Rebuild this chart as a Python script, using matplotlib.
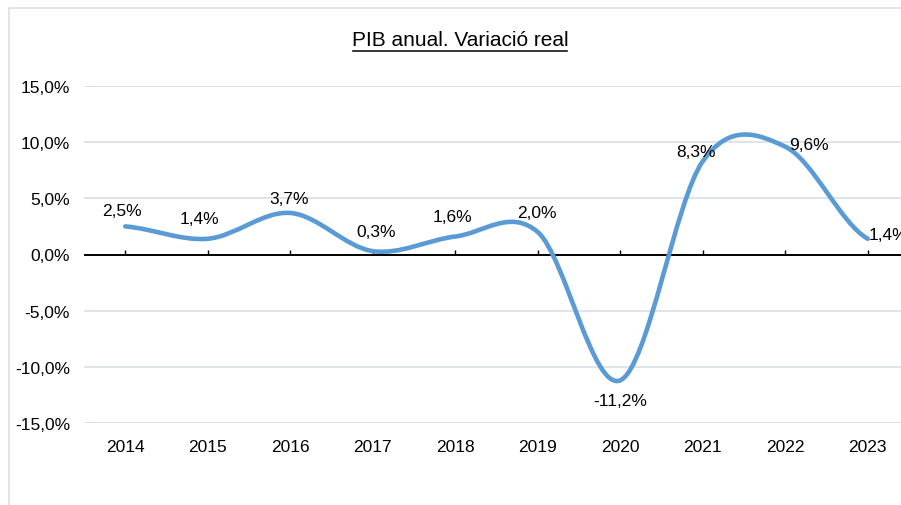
import numpy as np
import matplotlib
matplotlib.use("Agg")
import matplotlib.pyplot as plt
from matplotlib.path import Path
from matplotlib.patches import PathPatch, Rectangle
from matplotlib.lines import Line2D
from matplotlib.markers import TICKUP
from matplotlib.ticker import FuncFormatter
from matplotlib.transforms import IdentityTransform

plt.rcParams['font.family'] = ['Liberation Sans', 'DejaVu Sans']

# Dades
anys = ['2014', '2015', '2016', '2017', '2018', '2019', '2020', '2021', '2022', '2023']
pib = [2.5, 1.4, 3.7, 0.3, 1.6, 2.0, -11.2, 8.3, 9.6, 1.4]

# desplaçament de les etiquetes (pixels)
offsets = [(-3, 16), (-8, 20), (-1, 14), (3, 20), (-2.5, 20), (-1, 20),
           (-0.5, -20), (-6.5, 10), (24, 2), (21, 4)]

blau = '#5B9BD5'
gris = '#D9DFE6'
fs = 12.5

W, H = 901, 506
fig = plt.figure(figsize=(W / 100, H / 100), dpi=100)

# marc del grafic
fig.patches.append(Rectangle((8.5 / W, -0.1), 1.2, 1 - 9 / H + 0.1,
                             transform=fig.transFigure, fill=False,
                             edgecolor=gris, linewidth=1.2))

left, right = 84, 909
top, bottom = 87, 424
ax = fig.add_axes([left / W, (H - bottom) / H, (right - left) / W, (bottom - top) / H])

n = len(pib)
x = np.arange(n)
ax.set_xlim(-0.5, n - 0.5)
ax.set_ylim(-15, 15)
ax.set_yticks(np.arange(-15, 16, 5))
ax.yaxis.set_major_formatter(FuncFormatter(lambda v, p: f"{v:.1f}%".replace('.', ',')))
ax.set_xticks(x, anys)
ax.tick_params(axis='both', length=0, labelsize=fs, colors='black')
ax.tick_params(axis='y', pad=10)
ax.tick_params(axis='x', pad=11.5)
for s in ax.spines.values():
    s.set_visible(False)
ax.grid(axis='y', color=gris, linewidth=1.2)
ax.set_axisbelow(True)

# eix horitzontal a 0 amb marques cap amunt
ax.axhline(0, color='black', linewidth=1.4, zorder=2)
ax.plot(x, np.zeros(n), linestyle='none', marker=TICKUP, markersize=3.5,
        markeredgewidth=1, color='black', zorder=2)

# linia suavitzada (corbes de Bezier)
verts = [(x[0], pib[0])]
codes = [Path.MOVETO]
for i in range(n - 1):
    p0 = pib[i - 1] if i > 0 else pib[i]
    p3 = pib[i + 2] if i + 2 < n else pib[i + 1]
    c1 = pib[i] + (pib[i + 1] - p0) / 6
    c2 = pib[i + 1] - (p3 - pib[i]) / 6
    verts += [(x[i] + 1 / 3, c1), (x[i + 1] - 1 / 3, c2), (x[i + 1], pib[i + 1])]
    codes += [Path.CURVE4] * 3
ax.add_patch(PathPatch(Path(verts, codes), fill=False, edgecolor=blau,
                       linewidth=3.3, capstyle='round', joinstyle='round', zorder=3))

for i, v in enumerate(pib):
    ax.annotate(f"{v:.1f}%".replace('.', ','), (x[i], v), xytext=offsets[i],
                textcoords='offset pixels', ha='center', va='center',
                fontsize=fs, color='black', annotation_clip=False, zorder=4)

t = fig.text(460 / W, 1 - 41 / H, 'PIB anual. Variació real', ha='center', va='center',
             fontsize=15, color='black')
fig.canvas.draw()
bb = t.get_window_extent()
fig.add_artist(Line2D([bb.x0 + 1, bb.x1 - 1], [H - 52, H - 52], color='black',
                      linewidth=1.1, transform=IdentityTransform()))

fig.savefig('out.png', dpi=100)
